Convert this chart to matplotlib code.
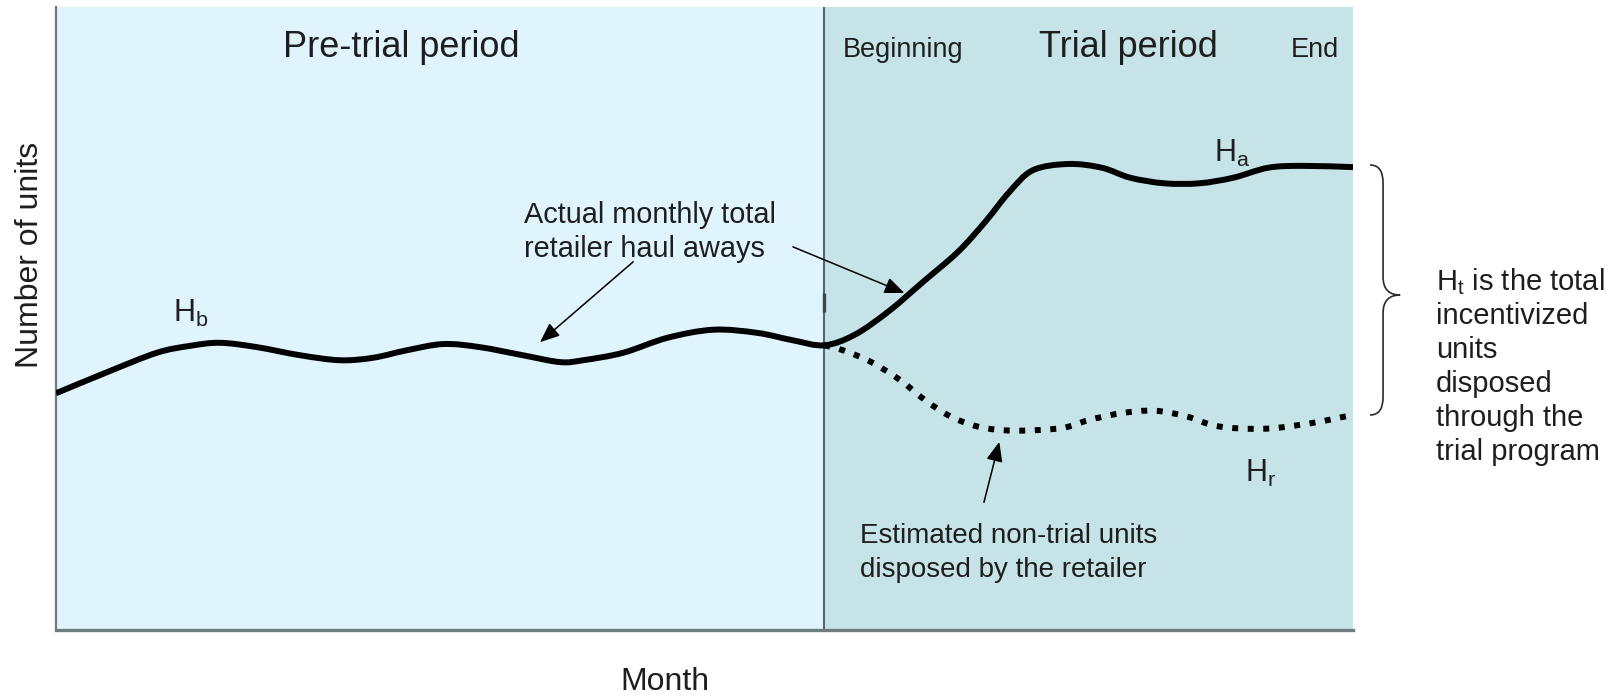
import matplotlib
matplotlib.use("Agg")
import matplotlib.pyplot as plt
from matplotlib.path import Path
from matplotlib.patches import PathPatch

plt.rcParams["font.family"] = ["Liberation Sans", "DejaVu Sans"]
plt.rcParams["mathtext.default"] = "regular"

W, H = 1621, 697

# Months on the x axis, number of units (0-100) on the y axis
TRIAL_START = 13.03
TRIAL_END = 22.0

# Actual monthly total retailer haul aways (H_b before the trial, H_a during it)
actual_months = [0.00, 0.87, 1.71, 2.27, 2.78, 3.41, 4.14, 4.82, 5.38, 5.95, 6.57, 7.19,
                 7.92, 8.55, 8.94, 9.62, 10.37, 11.15, 11.89, 12.50, 13.03, 13.55, 14.13,
                 14.71, 15.30, 15.76, 16.17, 16.57, 17.17, 17.74, 18.22, 18.80, 19.39,
                 19.97, 20.56, 21.14, 22.00]
actual_units = [38.0, 41.4, 44.5, 45.6, 46.1, 45.4, 44.1, 43.3, 43.7, 44.9, 45.9, 45.4,
                44.1, 43.0, 43.3, 44.5, 46.9, 48.2, 47.7, 46.5, 45.7, 47.4, 51.2,
                55.9, 60.7, 65.5, 70.3, 73.8, 74.8, 74.2, 72.6, 71.7, 71.7,
                72.6, 74.2, 74.5, 74.3]

# Estimated non-trial units disposed by the retailer (H_r)
estimate_months = [13.03, 13.35, 13.83, 14.32, 14.74, 15.17, 15.66, 16.25, 17.05, 17.52,
                   18.07, 18.63, 19.17, 19.71, 20.49, 21.29, 21.83, 22.00]
estimate_units = [45.7, 44.9, 43.0, 40.1, 36.9, 34.3, 32.6, 32.0, 32.4, 33.7,
                  34.8, 35.2, 34.3, 32.7, 32.3, 33.2, 34.2, 34.5]

PRE_COLOR = "#dff4fc"
TRIAL_COLOR = "#c6e4e8"
AXIS_COLOR = "#6c7c80"
TEXT_COLOR = "#1e1e1e"


def fig_xy(px, py):
    """Pixel position in the picture -> figure fraction"""
    return px / W, 1 - py / H


def smooth_path(xs, ys):
    """Bezier path through every point (Catmull-Rom tangents), so the curve is drawn smooth"""
    pts = list(zip(xs, ys))
    verts = [pts[0]]
    codes = [Path.MOVETO]
    for i in range(len(pts) - 1):
        p0 = pts[max(i - 1, 0)]
        p1 = pts[i]
        p2 = pts[i + 1]
        p3 = pts[min(i + 2, len(pts) - 1)]
        c1 = (p1[0] + (p2[0] - p0[0]) / 6, p1[1] + (p2[1] - p0[1]) / 6)
        c2 = (p2[0] - (p3[0] - p1[0]) / 6, p2[1] - (p3[1] - p1[1]) / 6)
        verts += [c1, c2, p2]
        codes += [Path.CURVE4] * 3
    return Path(verts, codes)


fig = plt.figure(figsize=(W / 100, H / 100), dpi=100)
ax = fig.add_axes([56 / W, (H - 630) / H, (1353 - 56) / W, (630 - 7) / H])
ax.set_xlim(0, TRIAL_END)
ax.set_ylim(0, 100)
ax.set_xticks([])
ax.set_yticks([])

ax.axvspan(0, TRIAL_START, color=PRE_COLOR, lw=0, zorder=0)
ax.axvspan(TRIAL_START, TRIAL_END, color=TRIAL_COLOR, lw=0, zorder=0)
ax.axvline(TRIAL_START, color="#5b6468", lw=1.5, zorder=1)
ax.vlines(TRIAL_START, 51.0, 54.1, color="#3f4649", lw=2.4, zorder=1)

for side in ("top", "right"):
    ax.spines[side].set_visible(False)
ax.spines["left"].set_color(AXIS_COLOR)
ax.spines["left"].set_linewidth(1.6)
ax.spines["bottom"].set_color(AXIS_COLOR)
ax.spines["bottom"].set_linewidth(2.4)

ax.add_patch(PathPatch(smooth_path(estimate_months, estimate_units), fill=False,
                       edgecolor="black", lw=4.3, linestyle=(0, (1, 1.6)),
                       capstyle="butt", zorder=3))
ax.add_patch(PathPatch(smooth_path(actual_months, actual_units), fill=False,
                       edgecolor="black", lw=4.3, joinstyle="round",
                       capstyle="butt", zorder=4))

# Arrows from the notes to the curves
arrow = dict(arrowstyle="-|>,head_length=0.6,head_width=0.25", color="black",
             lw=1.1, shrinkA=0, shrinkB=0, mutation_scale=20)
ax.annotate("", xy=(8.21, 46.2), xytext=(9.79, 59.1), arrowprops=arrow, zorder=5)
ax.annotate("", xy=(14.39, 54.1), xytext=(12.50, 61.5), arrowprops=arrow, zorder=5)
ax.annotate("", xy=(16.00, 30.2), xytext=(15.74, 20.5), arrowprops=arrow, zorder=5)

# Curly brace spanning H_a - H_r at the end of the trial
brace = Path(
    [(22.29, 74.64), (22.51, 74.64), (22.51, 71.75), (22.51, 56.66),
     (22.51, 53.77), (22.80, 53.77), (22.51, 53.77), (22.51, 50.88),
     (22.51, 37.40), (22.51, 34.51), (22.29, 34.51)],
    [Path.MOVETO, Path.CURVE3, Path.CURVE3, Path.LINETO,
     Path.CURVE3, Path.CURVE3, Path.CURVE3, Path.CURVE3,
     Path.LINETO, Path.CURVE3, Path.CURVE3],
)
ax.add_patch(PathPatch(brace, fill=False, edgecolor="#2a2a2a", lw=1.2, clip_on=False))

# Texts
fig.text(*fig_xy(401, 57), "Pre-trial period", fontsize=26, ha="center", va="baseline", color=TEXT_COLOR)
fig.text(*fig_xy(1128, 57), "Trial period", fontsize=26, ha="center", va="baseline", color=TEXT_COLOR)
fig.text(*fig_xy(903, 57), "Beginning", fontsize=19.5, ha="center", va="baseline", color=TEXT_COLOR)
fig.text(*fig_xy(1315, 57), "End", fontsize=19.5, ha="center", va="baseline", color=TEXT_COLOR)

fig.text(*fig_xy(173, 322), "H$_b$", fontsize=22, ha="left", va="baseline", color=TEXT_COLOR)
fig.text(*fig_xy(1214, 162), "H$_a$", fontsize=22, ha="left", va="baseline", color=TEXT_COLOR)
fig.text(*fig_xy(1245, 482), "H$_r$", fontsize=22, ha="left", va="baseline", color=TEXT_COLOR)

fig.text(*fig_xy(524, 223), "Actual monthly total", fontsize=20.8, ha="left", va="baseline", color=TEXT_COLOR)
fig.text(*fig_xy(524, 257), "retailer haul aways", fontsize=20.8, ha="left", va="baseline", color=TEXT_COLOR)
fig.text(*fig_xy(860, 543), "Estimated non-trial units", fontsize=20, ha="left", va="baseline", color=TEXT_COLOR)
fig.text(*fig_xy(860, 577), "disposed by the retailer", fontsize=20, ha="left", va="baseline", color=TEXT_COLOR)

note_lines = ["H$_t$ is the total", "incentivized", "units", "disposed", "through the", "trial program"]
for i, line in enumerate(note_lines):
    fig.text(*fig_xy(1436, 290 + 34 * i), line, fontsize=21, ha="left", va="baseline", color=TEXT_COLOR)

fig.text(*fig_xy(30, 255), "Number of units", fontsize=23, rotation=90, ha="center", va="center", color=TEXT_COLOR)
fig.text(*fig_xy(665, 690), "Month", fontsize=23, ha="center", va="baseline", color=TEXT_COLOR)

fig.savefig("out.png", dpi=100)
